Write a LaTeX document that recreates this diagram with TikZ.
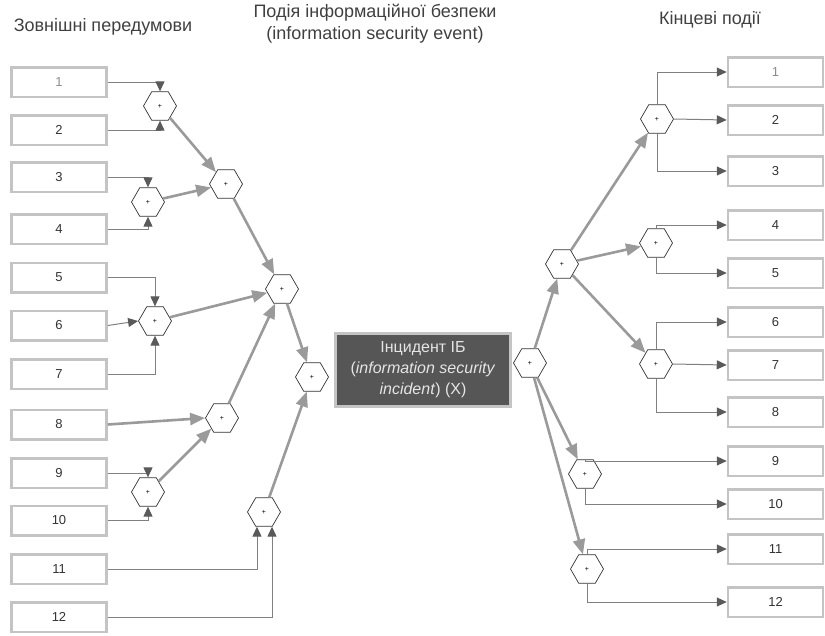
\documentclass[tikz,border=0pt]{standalone}
\usepackage{fontspec}
\setmainfont{Liberation Sans}
\usetikzlibrary{shapes.geometric,arrows.meta}
\definecolor{boxgray}{HTML}{C4C4C4}
\definecolor{thin}{HTML}{808080}
\definecolor{headgray}{HTML}{5A5A5A}
\definecolor{thick}{HTML}{9A9A9A}
\definecolor{centerfill}{HTML}{565656}
\definecolor{numcol}{HTML}{333333}
\tikzset{
  numbox/.style={draw=boxgray, line width=2.5pt, fill=white, minimum width=95pt, minimum height=29.5pt, inner sep=0pt, text=numcol, font=\fontsize{13}{13}\selectfont},
  hexnode/.style={regular polygon, regular polygon sides=6, minimum size=33pt, inner sep=0pt, draw=black!80, line width=0.7pt, fill=white, font=\fontsize{7}{7}\selectfont},
  thinarrow/.style={draw=thin, line width=1pt, -{Triangle[length=10pt,width=9pt,color=headgray]}},
  thickarrow/.style={draw=thick, line width=2.6pt, -{Triangle[length=15pt,width=12pt,color=thick]}},
  title/.style={font=\fontsize{18}{22}\selectfont, text=black!75, align=center}
}
\begin{document}
\begin{tikzpicture}[x=1pt,y=-1pt]
\useasboundingbox (0,0) rectangle (825,635);
% titles
\node[title] (t1) at (103,27) {Зовнішні передумови};
\node[title] (t2) at (375,24) {Подія інформаційної безпеки\\(information security event)};
\node[title] (t3) at (710,20) {Кінцеві події};
% left boxes
\node[numbox, text=black!45] (b1) at (59,82) {1};
\node[numbox] (b2) at (59,130) {2};
\node[numbox] (b3) at (59,177) {3};
\node[numbox] (b4) at (59,229) {4};
\node[numbox] (b5) at (59,277.5) {5};
\node[numbox] (b6) at (59,325.5) {6};
\node[numbox] (b7) at (59,374) {7};
\node[numbox] (b8) at (59,424.5) {8};
\node[numbox] (b9) at (59,473) {9};
\node[numbox] (b10) at (59,520.5) {10};
\node[numbox] (b11) at (59,569) {11};
\node[numbox] (b12) at (59,617) {12};
% left hexagons
\node[hexnode] (h12) at (160,106) {+};
\node[hexnode] (h34) at (148,202) {+};
\node[hexnode] (h1234) at (226,184) {+};
\node[hexnode] (h567) at (155,321) {+};
\node[hexnode] (hmid) at (282,289) {+};
\node[hexnode] (hc) at (312,377) {+};
\node[hexnode] (h8) at (222,418) {+};
\node[hexnode] (h910) at (148,492) {+};
\node[hexnode] (h1112) at (264,512) {+};
% center box
\node[draw=boxgray, line width=3pt, fill=centerfill, minimum width=175pt, minimum height=73pt, inner sep=0pt, text=white!90!black, align=center, font=\fontsize{16}{21}\selectfont] (inc) at (423,370) {Інцидент ІБ\\(\textit{information security}\\\textit{incident}) (X)};
% right hexagons
\node[hexnode] (hr0) at (530,363) {+};
\node[hexnode] (hr1) at (562,264) {+};
\node[hexnode] (hr123) at (657,119) {+};
\node[hexnode] (hr45) at (656,243) {+};
\node[hexnode] (hr678) at (656,364) {+};
\node[hexnode] (hr910) at (585,474) {+};
\node[hexnode] (hr1112) at (587,569) {+};
% right boxes
\node[numbox, text=black!45] (r1) at (775.5,72) {1};
\node[numbox] (r2) at (775.5,120) {2};
\node[numbox] (r3) at (775.5,171) {3};
\node[numbox] (r4) at (775.5,225) {4};
\node[numbox] (r5) at (775.5,273) {5};
\node[numbox] (r6) at (775.5,322) {6};
\node[numbox] (r7) at (775.5,365) {7};
\node[numbox] (r8) at (775.5,412) {8};
\node[numbox] (r9) at (775.5,461) {9};
\node[numbox] (r10) at (775.5,504) {10};
\node[numbox] (r11) at (775.5,549) {11};
\node[numbox] (r12) at (775.5,602) {12};
% left thin connectors
\draw[thinarrow] (b1.east) -| (h12.north);
\draw[thinarrow] (b2.east) -| (h12.south);
\draw[thinarrow] (b3.east) -| (h34.north);
\draw[thinarrow] (b4.east) -| (h34.south);
\draw[thinarrow] (b5.east) -| (h567.north);
\draw[thinarrow] (b6.east) -- (h567.west);
\draw[thinarrow] (b7.east) -| (h567.south);
\draw[thinarrow] (b9.east) -| (h910.north);
\draw[thinarrow] (b10.east) -| (h910.south);
\draw[thinarrow] (b11.east) -| ([xshift=-7pt]h1112.south);
\draw[thinarrow] (b12.east) -| ([xshift=8pt]h1112.south);
% left thick connectors
\draw[thickarrow] (h12) -- (h1234);
\draw[thickarrow] (h34) -- (h1234);
\draw[thickarrow] (h1234) -- (hmid);
\draw[thickarrow] (h567) -- (hmid);
\draw[thickarrow] (h8) -- (hmid);
\draw[thickarrow] (hmid) -- (hc);
\draw[thickarrow] (b8.east) -- (h8.west);
\draw[thickarrow] (h910) -- (h8);
\draw[thickarrow] (h1112) -- (hc);
% right thick connectors
\draw[thickarrow] (hr0) -- (hr1);
\draw[thickarrow] (hr1) -- (hr123);
\draw[thickarrow] (hr1) -- (hr45);
\draw[thickarrow] (hr1) -- (hr678);
\draw[thickarrow] (hr0) -- (hr910);
\draw[thickarrow] (hr0) -- (hr1112);
% right thin connectors
\draw[thinarrow] (hr123.north) |- (r1.west);
\draw[thinarrow] (hr123.east) -- (r2.west);
\draw[thinarrow] (hr123.south) |- (r3.west);
\draw[thinarrow] (hr45.north) |- (r4.west);
\draw[thinarrow] (hr45.south) |- (r5.west);
\draw[thinarrow] (hr678.north) |- (r6.west);
\draw[thinarrow] (hr678.east) -- (r7.west);
\draw[thinarrow] (hr678.south) |- (r8.west);
\draw[thinarrow] (hr910.north) |- (r9.west);
\draw[thinarrow] (hr910.south) |- (r10.west);
\draw[thinarrow] (hr1112.north) |- (r11.west);
\draw[thinarrow] (hr1112.south) |- (r12.west);
\end{tikzpicture}
\end{document}
